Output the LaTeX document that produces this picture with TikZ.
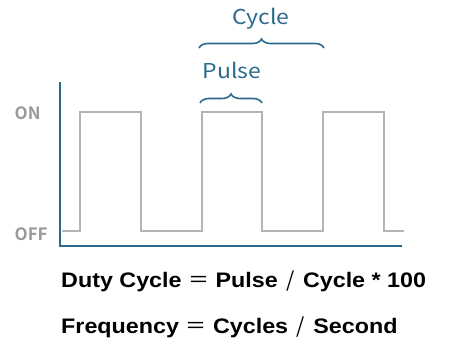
\documentclass[tikz,border=0pt]{standalone}
\usepackage{fontspec}
\setmainfont{Noto Sans CJK JP}[BoldFont={Noto Sans CJK JP Bold}]
\newfontfamily\formulafont{Liberation Sans}[FakeStretch=1.11]
\newfontfamily\symfont{Noto Sans CJK JP}
\newfontfamily\bluefont{Noto Sans CJK JP}[FakeStretch=1.12]
\usetikzlibrary{decorations.pathreplacing}
\definecolor{axisblue}{HTML}{2A6A8C}
\definecolor{wavegray}{HTML}{B4B4B4}
\definecolor{labelgray}{HTML}{999999}
\newcommand{\feq}{{\symfont\mdseries ＝}}
\newcommand{\fsl}{\hspace{2pt}{\symfont\mdseries /}\hspace{2pt}}
\tikzset{
  axisline/.style={draw=axisblue, line width=1.5pt},
  wave/.style={draw=wavegray, line width=1.8pt},
  bracestyle/.style={draw=axisblue, line width=1.6pt, decorate, decoration={brace, amplitude=9pt}},
  bluelabel/.style={text=axisblue, font=\bluefont\fontsize{20.5}{22}\selectfont, inner sep=0pt},
  levellabel/.style={text=labelgray, font=\fontsize{17}{19}\selectfont\bfseries, inner sep=0pt, anchor=west},
  formula/.style={text=black, font=\formulafont\fontsize{21}{22}\selectfont\bfseries, inner sep=0pt, anchor=base west}
}
\begin{document}
\begin{tikzpicture}[x=1pt,y=-1pt]
\useasboundingbox (0,0) rectangle (456,361);
% axes
\coordinate (ytop) at (60,82);
\coordinate (origin) at (60,246);
\coordinate (xend) at (402,246);
\draw[axisline] (ytop) -- (origin) -- (xend);
% waveform
\coordinate (w0) at (62,231);
\draw[wave] (w0) -- (80,231) -- (80,112) -- (141,112) -- (141,231) -- (202,231) -- (202,112) -- (262,112) -- (262,231) -- (323,231) -- (323,112) -- (384,112) -- (384,231) -- (404,231);
% level labels
\node[levellabel] (on) at (14.5,113) {ON};
\node[levellabel] (off) at (14.5,234) {OFF};
% braces
\coordinate (pl) at (200,103);
\coordinate (pr) at (262,103);
\coordinate (cl) at (199,48);
\coordinate (cr) at (324,48);
\draw[bracestyle] (pl) -- (pr);
\draw[bracestyle] (cl) -- (cr);
\node[bluelabel] (pulse) at (232,70) {Pulse};
\node[bluelabel] (cycle) at (261,19) {Cycle};
% formulas
\node[formula] (f1) at (61,287.5) {Duty Cycle \feq{} Pulse \fsl{} Cycle * 100};
\node[formula] (f2) at (61,333) {Frequency \feq{} Cycles \fsl{} Second};
\end{tikzpicture}
\end{document}
